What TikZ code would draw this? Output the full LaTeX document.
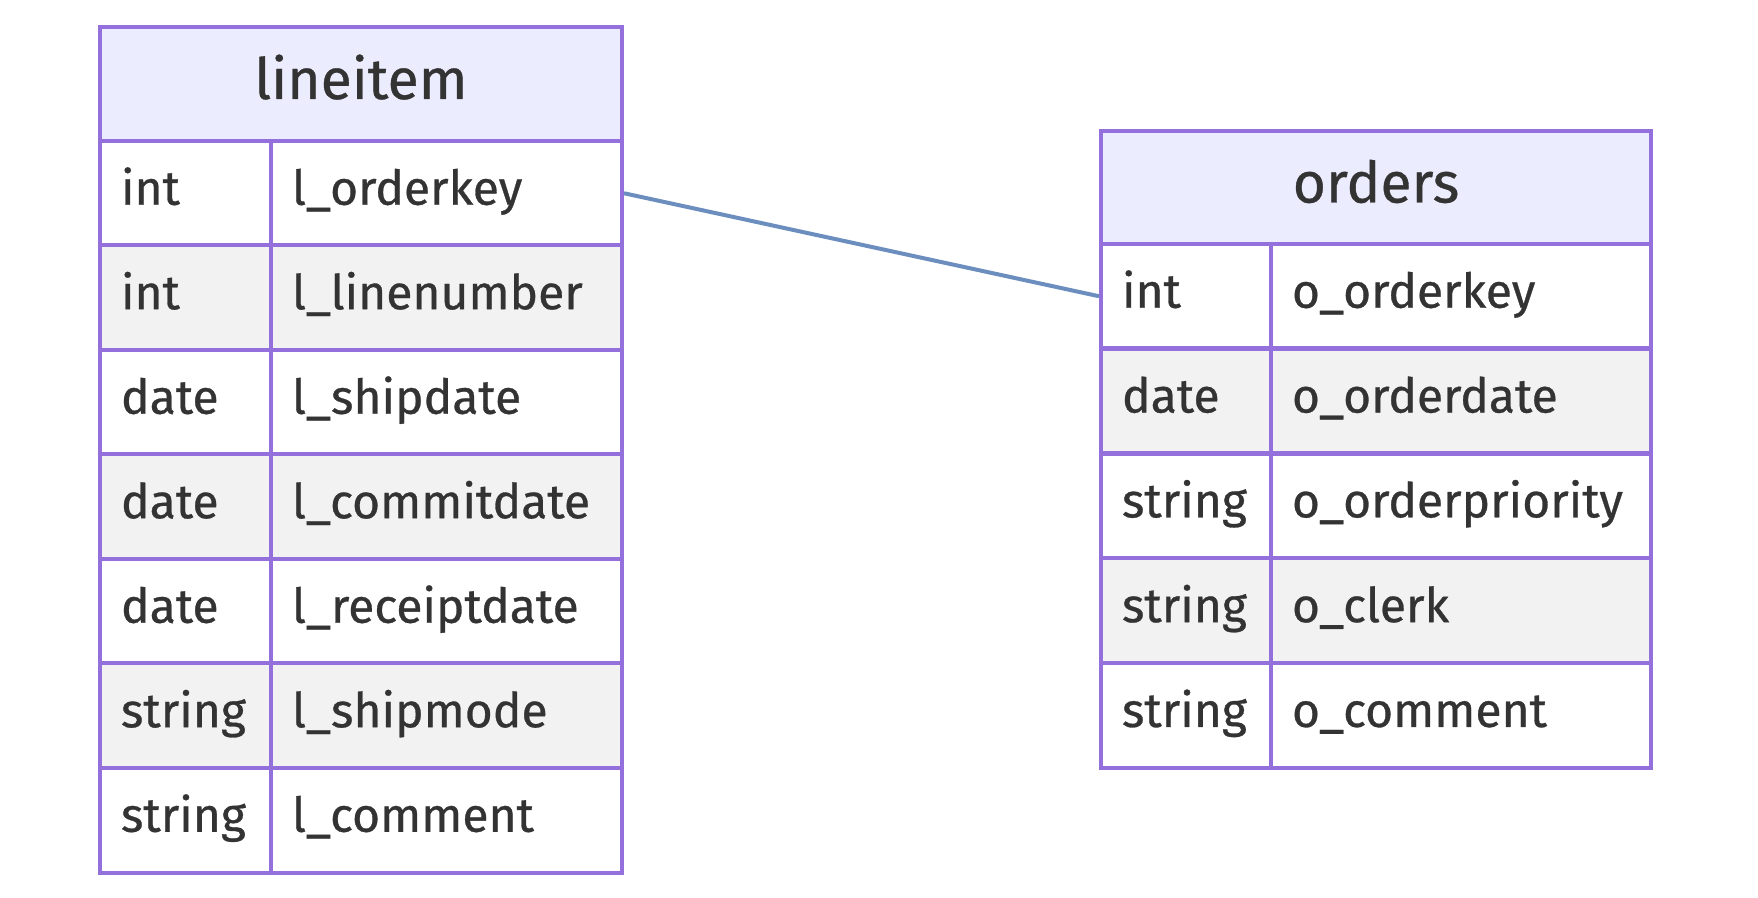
\documentclass[tikz,border=0pt]{standalone}
\usepackage{fontspec}
\setmainfont{Fira Sans}[FakeBold=0.6]
\definecolor{erborder}{HTML}{9370DB}
\definecolor{erhead}{HTML}{ECECFF}
\definecolor{eralt}{HTML}{F2F2F2}
\definecolor{ertext}{HTML}{333333}
\definecolor{erline}{HTML}{6C8EBF}
\tikzset{
  cell/.style={draw=erborder, line width=2pt, anchor=north west, inner xsep=10.5pt,
    minimum height=52.25pt, align=left, text=ertext, text height=16.5pt, text depth=5pt,
    font=\fontsize{24}{28}\selectfont},
  head/.style={cell, fill=erhead, align=center, inner xsep=0pt, text height=20pt,
    font=\fontsize{28.5}{32}\selectfont},
  rel/.style={draw=erline, line width=2pt}
}
\begin{document}
\begin{tikzpicture}[x=0.5pt,y=-0.5pt]
\useasboundingbox (0,0) rectangle (1758,898);
% lineitem
\node[head, minimum width=261pt, minimum height=57pt] (lh) at (98,25) {lineitem};
\foreach \f/\t/\n [count=\i] in {white/int/l\_orderkey, eralt/int/l\_linenumber,
    white/date/l\_shipdate, eralt/date/l\_commitdate, white/date/l\_receiptdate,
    eralt/string/l\_shipmode, white/string/l\_comment}{
  \node[cell, fill=\f, text width=64.5pt] (lt\i) at (98,{139+(\i-1)*104.5}) {\t};
  \node[cell, fill=\f, text width=154.5pt] (ln\i) at (269,{139+(\i-1)*104.5}) {\n};
}
% orders
\node[head, minimum width=275pt, minimum height=56.5pt] (oh) at (1099,129) {orders};
\foreach \f/\t/\n [count=\i] in {white/int/o\_orderkey, eralt/date/o\_orderdate,
    white/string/o\_orderpriority, eralt/string/o\_clerk, white/string/o\_comment}{
  \node[cell, fill=\f, text width=64pt] (ot\i) at (1099,{242+(\i-1)*104.8}) {\t};
  \node[cell, fill=\f, text width=169pt] (on\i) at (1269,{242+(\i-1)*104.8}) {\n};
}
\draw[rel] (ln1.east) -- (ot1.west);
\end{tikzpicture}
\end{document}
